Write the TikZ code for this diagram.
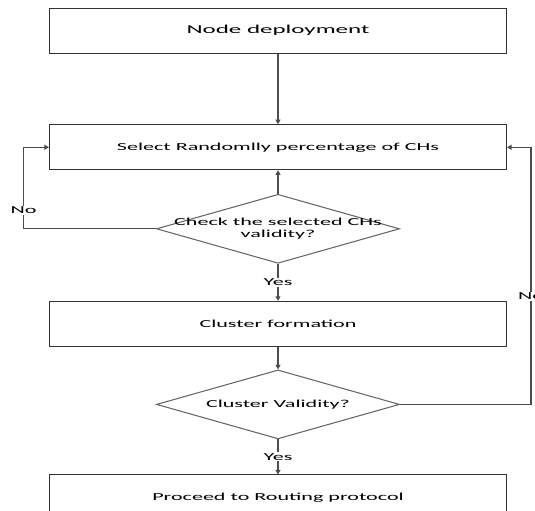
\documentclass[tikz,border=0pt]{standalone}
\usepackage{fontspec}
\newfontfamily\flowfont[FakeStretch=2.06]{Carlito}
\usetikzlibrary{positioning, arrows.meta, shapes.geometric}

\begin{document}
\begin{tikzpicture}[
    node distance=0.45cm,
    stepbox/.style={rectangle, draw=black!80, line width=0.6pt, minimum width=9.14cm, minimum height=0.9cm, inner sep=0pt, font=\flowfont\fontsize{6.1}{7.3}\selectfont},
    decision/.style={diamond, draw=black!60, line width=0.6pt, minimum width=4.86cm, minimum height=1.38cm, inner sep=0pt},
    flow/.style={draw=black!70, line width=0.6pt, -{Triangle[length=2.6pt, width=2.8pt]}},
    tag/.style={fill=white, inner sep=0.6pt, font=\flowfont\fontsize{6.1}{7.3}\selectfont}
  ]
  % page frame
  \clip (-5.56,0.614) rectangle (5.14,-9.606);

  % Steps
  \node[stepbox, font=\flowfont\fontsize{6.9}{8}\selectfont] (deploy) {Node deployment};
  \node[stepbox] (select) [below=1.41cm of deploy] {Select Randomlly percentage of CHs};
  \node[decision] (check) [below=0.47cm of select,
    label={[align=center, font=\flowfont\fontsize{6.1}{6.8}\selectfont]center:Check the selected CHs\\validity?}] {};
  \node[stepbox] (cluster) [below=0.74cm of check] {Cluster formation};
  \node[decision] (valid) [below=of cluster,
    label={[font=\flowfont\fontsize{6.1}{7.3}\selectfont]center:Cluster Validity?}] {};
  \node[stepbox] (route) [below=0.70cm of valid] {Proceed to Routing protocol};

  % Connectors
  \draw[flow] (deploy) -- (select);
  \draw[flow] (check) -- (select);
  \draw[flow] (check.west) -| ([xshift=-0.51cm]select.west) node[tag, pos=0.615] {No} -- (select.west);
  \draw[flow] (check) -- (cluster) node[tag, midway] {Yes};
  \draw[flow] (cluster) -- (valid);
  \draw[flow] (valid.east) -| ([xshift=0.48cm]select.east) node[tag, pos=0.71] {No} -- (select.east);
  \draw[flow] (valid) -- (route) node[tag, midway] {Yes};
\end{tikzpicture}
\end{document}
